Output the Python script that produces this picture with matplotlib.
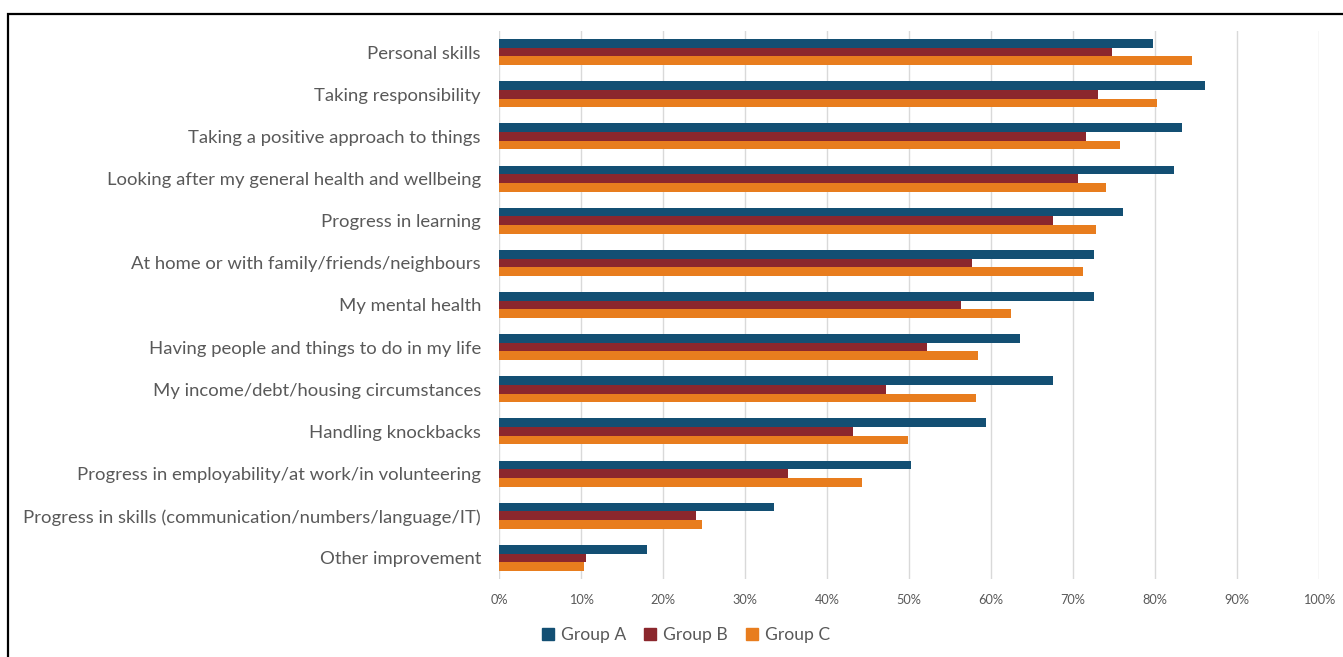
import numpy as np
import matplotlib
matplotlib.use("Agg")
import matplotlib.pyplot as plt
from matplotlib.patches import Rectangle, Patch

# Data (top to bottom as shown)
categories = [
    "Personal skills",
    "Taking responsibility",
    "Taking a positive approach to things",
    "Looking after my general health and wellbeing",
    "Progress in learning",
    "At home or with family/friends/neighbours",
    "My mental health",
    "Having people and things to do in my life",
    "My income/debt/housing circumstances",
    "Handling knockbacks",
    "Progress in employability/at work/in volunteering",
    "Progress in skills (communication/numbers/language/IT)",
    "Other improvement",
]
group_a = [79.8, 86.1, 83.3, 82.3, 76.1, 72.6, 72.5, 63.5, 67.5, 59.4, 50.3, 33.5, 18.1]
group_b = [74.8, 73.1, 71.6, 70.6, 67.6, 57.7, 56.3, 52.2, 47.2, 43.2, 35.2, 24.0, 10.6]
group_c = [84.5, 80.3, 75.7, 74.0, 72.8, 71.2, 62.4, 58.4, 58.2, 49.9, 44.3, 24.7, 10.4]
series_names = ["Group A", "Group B", "Group C"]
colors = ["#134F73", "#8B272D", "#E87D1E"]
x_ticks = list(range(0, 101, 10))

plt.rcParams["font.family"] = ["Lato", "DejaVu Sans"]
text_color = "#595959"

fig = plt.figure(figsize=(13.43, 6.57), dpi=100)
ax = fig.add_axes([499 / 1343, 1 - 579 / 657, 820 / 1343, 548 / 657])

y = np.arange(len(categories))
h = 0.205
for i, (vals, name, col) in enumerate(zip([group_a, group_b, group_c], series_names, colors)):
    ax.barh(y + (i - 1) * h, vals, height=h, color=col, label=name, zorder=3)

ax.set_xlim(0, 100)
ax.set_ylim(len(categories) - 0.5, -0.5)
ax.set_yticks(y)
ax.set_yticklabels(categories, fontsize=13.3, color=text_color)
ax.set_xticks(x_ticks)
ax.set_xticklabels([f"{t}%" for t in x_ticks], fontsize=9.2, color=text_color)
ax.tick_params(axis="y", length=0, pad=13)
ax.tick_params(axis="x", length=0, pad=11)
ax.grid(axis="x", color="#D9D9D9", linewidth=1, zorder=0)
for s in ax.spines.values():
    s.set_visible(False)

handles = [Patch(color=c, label=n) for c, n in zip(colors, series_names)]
fig.legend(handles=handles, loc="center", bbox_to_anchor=(686 / 1343, 1 - 635 / 657),
           ncol=3, frameon=False, fontsize=12.6, handlelength=0.7, handleheight=0.7,
           handletextpad=0.4, columnspacing=1.0, labelcolor=text_color)

# outer frame
fig.patches.append(Rectangle((8 / 1343, -0.1), 1.2, (657 - 14) / 657 + 0.1,
                             transform=fig.transFigure, fill=False,
                             edgecolor="black", linewidth=1.6))

fig.savefig("out.png", dpi=100)
